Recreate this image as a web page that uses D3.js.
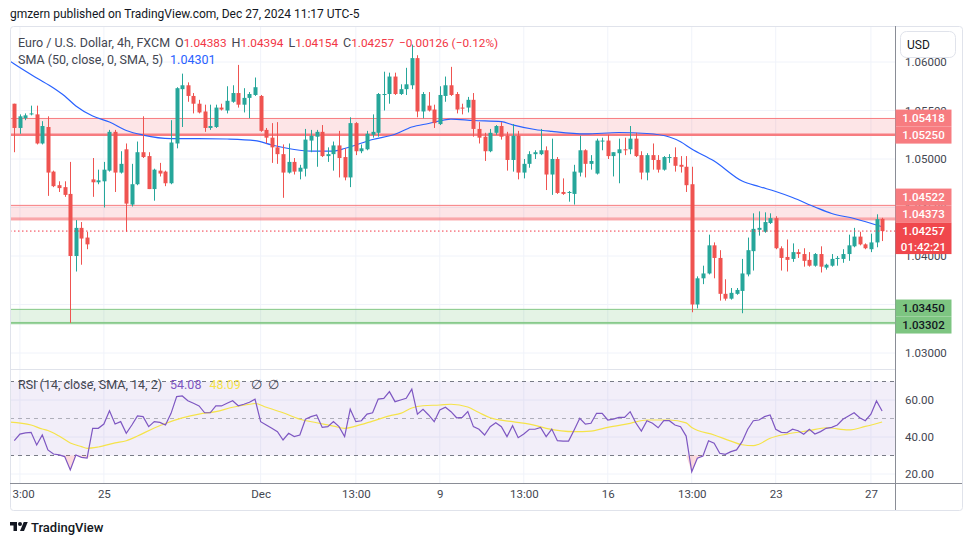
<!DOCTYPE html>
<html>
<head>
<meta charset="utf-8">
<script src="https://cdn.jsdelivr.net/npm/d3@7"></script>
<style>
  body { margin: 0; background: #fff; }
  text { font-family: Roboto, "Noto Sans", sans-serif; }
</style>
</head>
<body>
<svg id="chart" width="970" height="545"></svg>
<script>
// EURUSD 4h candles, [open, high, low, close]
const candles = [
  [1.0557,1.0557,1.0507,1.0532],[1.0532,1.0546,1.0526,1.0544],[1.0542,1.0547,1.0540,1.0545],[1.0546,1.0555,1.0545,1.0547],
  [1.0546,1.0555,1.0515,1.0516],[1.0516,1.0539,1.0515,1.0534],[1.0533,1.0544,1.0462,1.0486],[1.0487,1.0488,1.0471,1.0472],
  [1.0473,1.0477,1.0466,1.0470],[1.0471,1.0477,1.0461,1.0463],[1.0464,1.0497,1.0331,1.0400],[1.0400,1.0437,1.0384,1.0429],
  [1.0429,1.0435,1.0391,1.0418],[1.0419,1.0425,1.0407,1.0412],[1.0479,1.0501,1.0461,1.0476],[1.0476,1.0489,1.0474,1.0478],
  [1.0477,1.0497,1.0450,1.0489],[1.0488,1.0530,1.0487,1.0528],[1.0528,1.0530,1.0466,1.0486],[1.0486,1.0508,1.0485,1.0495],
  [1.0510,1.0516,1.0425,1.0454],[1.0453,1.0495,1.0451,1.0474],[1.0474,1.0518,1.0473,1.0507],[1.0507,1.0544,1.0501,1.0502],
  [1.0503,1.0507,1.0469,1.0469],[1.0469,1.0490,1.0457,1.0489],[1.0488,1.0496,1.0482,1.0485],[1.0487,1.0488,1.0472,1.0475],
  [1.0475,1.0540,1.0474,1.0517],[1.0516,1.0574,1.0511,1.0573],[1.0572,1.0588,1.0533,1.0576],[1.0576,1.0579,1.0559,1.0565],
  [1.0565,1.0568,1.0547,1.0557],[1.0557,1.0561,1.0547,1.0548],[1.0549,1.0556,1.0528,1.0532],[1.0532,1.0556,1.0530,1.0534],
  [1.0533,1.0556,1.0532,1.0553],[1.0553,1.0557,1.0550,1.0551],[1.0550,1.0575,1.0547,1.0560],[1.0559,1.0576,1.0558,1.0568],
  [1.0568,1.0597,1.0553,1.0556],[1.0556,1.0573,1.0548,1.0563],[1.0563,1.0569,1.0542,1.0567],[1.0566,1.0584,1.0565,1.0574],
  [1.0565,1.0566,1.0528,1.0529],[1.0530,1.0532,1.0516,1.0522],[1.0522,1.0537,1.0496,1.0512],[1.0512,1.0538,1.0495,1.0505],
  [1.0505,1.0515,1.0460,1.0486],[1.0486,1.0516,1.0485,1.0497],[1.0497,1.0501,1.0484,1.0487],[1.0487,1.0494,1.0479,1.0491],
  [1.0490,1.0531,1.0482,1.0520],[1.0519,1.0530,1.0507,1.0524],[1.0523,1.0530,1.0492,1.0528],[1.0528,1.0535,1.0502,1.0503],
  [1.0503,1.0512,1.0497,1.0505],[1.0505,1.0518,1.0488,1.0514],[1.0514,1.0529,1.0481,1.0501],[1.0502,1.0511,1.0478,1.0481],
  [1.0481,1.0543,1.0471,1.0537],[1.0537,1.0538,1.0504,1.0508],[1.0508,1.0515,1.0506,1.0511],[1.0510,1.0529,1.0509,1.0526],
  [1.0525,1.0546,1.0522,1.0528],[1.0527,1.0568,1.0523,1.0567],[1.0566,1.0590,1.0550,1.0567],[1.0567,1.0589,1.0557,1.0585],
  [1.0585,1.0589,1.0566,1.0567],[1.0567,1.0577,1.0566,1.0572],[1.0572,1.0594,1.0566,1.0577],[1.0576,1.0618,1.0572,1.0604],
  [1.0604,1.0607,1.0543,1.0549],[1.0549,1.0569,1.0542,1.0567],[1.0555,1.0569,1.0549,1.0550],[1.0551,1.0556,1.0532,1.0537],
  [1.0536,1.0575,1.0535,1.0566],[1.0565,1.0585,1.0559,1.0576],[1.0576,1.0595,1.0565,1.0566],[1.0567,1.0569,1.0547,1.0551],
  [1.0553,1.0557,1.0546,1.0552],[1.0553,1.0564,1.0548,1.0561],[1.0561,1.0568,1.0523,1.0531],[1.0531,1.0538,1.0516,1.0522],
  [1.0523,1.0527,1.0498,1.0508],[1.0508,1.0531,1.0507,1.0527],[1.0527,1.0535,1.0525,1.0534],[1.0534,1.0538,1.0520,1.0523],
  [1.0524,1.0528,1.0488,1.0499],[1.0499,1.0536,1.0487,1.0524],[1.0524,1.0529,1.0479,1.0486],[1.0486,1.0500,1.0480,1.0495],
  [1.0495,1.0508,1.0491,1.0505],[1.0505,1.0509,1.0500,1.0507],[1.0505,1.0531,1.0504,1.0509],[1.0509,1.0513,1.0468,1.0484],
  [1.0484,1.0521,1.0463,1.0500],[1.0500,1.0502,1.0464,1.0465],[1.0466,1.0480,1.0463,1.0464],[1.0465,1.0467,1.0456,1.0466],
  [1.0464,1.0494,1.0453,1.0487],[1.0486,1.0524,1.0482,1.0509],[1.0509,1.0510,1.0481,1.0495],[1.0495,1.0504,1.0489,1.0498],
  [1.0485,1.0521,1.0484,1.0519],[1.0518,1.0522,1.0509,1.0519],[1.0519,1.0525,1.0500,1.0503],[1.0503,1.0507,1.0482,1.0507],
  [1.0506,1.0521,1.0475,1.0510],[1.0510,1.0522,1.0504,1.0509],[1.0510,1.0534,1.0505,1.0521],[1.0521,1.0527,1.0502,1.0503],
  [1.0504,1.0508,1.0479,1.0486],[1.0486,1.0506,1.0478,1.0504],[1.0504,1.0516,1.0489,1.0499],[1.0499,1.0504,1.0486,1.0489],
  [1.0489,1.0503,1.0488,1.0502],[1.0501,1.0505,1.0496,1.0502],[1.0502,1.0512,1.0487,1.0493],[1.0494,1.0503,1.0486,1.0492],
  [1.0492,1.0503,1.0466,1.0473],[1.0474,1.0492,1.0342,1.0350],[1.0350,1.0379,1.0346,1.0377],[1.0377,1.0390,1.0371,1.0382],
  [1.0382,1.0422,1.0381,1.0411],[1.0411,1.0414,1.0377,1.0398],[1.0398,1.0406,1.0354,1.0361],[1.0361,1.0376,1.0354,1.0356],
  [1.0356,1.0367,1.0355,1.0362],[1.0361,1.0367,1.0360,1.0365],[1.0364,1.0397,1.0341,1.0382],[1.0381,1.0419,1.0379,1.0406],
  [1.0405,1.0444,1.0385,1.0428],[1.0427,1.0446,1.0421,1.0429],[1.0425,1.0445,1.0424,1.0435],[1.0434,1.0444,1.0433,1.0439],
  [1.0439,1.0441,1.0407,1.0408],[1.0408,1.0410,1.0385,1.0398],[1.0399,1.0417,1.0384,1.0396],[1.0397,1.0413,1.0394,1.0404],
  [1.0404,1.0407,1.0398,1.0402],[1.0402,1.0408,1.0389,1.0395],[1.0396,1.0404,1.0389,1.0390],[1.0390,1.0403,1.0389,1.0402],
  [1.0402,1.0410,1.0383,1.0389],[1.0388,1.0392,1.0386,1.0391],[1.0390,1.0402,1.0389,1.0397],[1.0397,1.0400,1.0390,1.0398],
  [1.0397,1.0407,1.0393,1.0402],[1.0402,1.0422,1.0395,1.0411],[1.0410,1.0429,1.0409,1.0420],[1.0420,1.0425,1.0411,1.0412],
  [1.0412,1.0413,1.0407,1.0408],[1.0407,1.0423,1.0404,1.0414],[1.0414,1.0443,1.0409,1.0438],[1.04383,1.04394,1.04154,1.04257]
];

// SMA(50) on price, read at these candle positions
const smaIdx = [-0.8,0,4,7,9,11,14,17,20,23,28,33,38,43,46,50,53,57,59,61,64,68,71,74,78,82,87,89,93,96,102,108,113,117,119,121,125,130,133,136,139,143,146,150,155];
const smaVal = [1.06010,1.05979,1.05835,1.05732,1.05649,1.05546,1.05443,1.05381,1.05294,1.05247,1.05211,1.05211,1.05206,1.05189,1.05144,1.05098,1.05082,1.05082,1.05108,1.05144,1.05201,1.05255,1.05330,1.05366,1.05412,1.05397,1.05385,1.05351,1.05304,1.05284,1.05258,1.05273,1.05263,1.05227,1.05178,1.05103,1.04979,1.04773,1.04716,1.04665,1.04603,1.04505,1.04438,1.04387,1.04301];

// RSI(14), one value per candle
const rsi = [
  38.0,41.6,42.2,42.5,35.7,41.1,33.0,30.8,30.3,29.4,
  22.2,30.3,29.0,28.6,44.7,44.7,47.0,54.2,47.0,48.3,
  42.0,46.5,51.4,51.0,45.6,48.3,47.9,46.5,52.8,61.8,
  62.2,59.6,58.2,56.8,53.1,53.1,56.8,56.8,58.2,59.6,
  56.9,57.7,58.8,60.4,48.3,46.5,44.7,42.9,38.4,42.0,
  40.2,41.1,49.6,51.0,51.9,45.2,45.6,48.3,45.6,40.2,
  55.0,48.3,48.8,52.4,53.1,60.5,60.9,64.5,59.1,60.0,
  60.9,65.9,52.3,55.0,51.9,48.3,54.6,56.1,53.7,50.4,
  50.6,53.7,45.6,44.2,41.1,45.6,47.7,45.6,40.2,46.1,
  39.6,41.6,44.2,44.2,45.2,40.2,44.3,38.0,37.8,37.8,
  43.8,50.1,47.0,47.4,52.8,52.8,49.2,49.7,50.6,50.6,
  53.7,47.7,43.2,48.8,47.4,45.0,48.8,48.8,46.5,45.6,
  40.5,21.2,28.5,29.7,38.0,36.6,31.2,30.6,32.1,33.0,
  37.5,44.2,48.8,49.2,51.0,51.9,44.2,42.5,42.3,44.2,
  43.4,41.5,44.2,41.6,42.9,44.7,45.2,46.5,49.6,51.4,
  53.1,50.4,48.8,52.3,59.5,54.08
];

// SMA(14) of RSI, read at these candle positions
const rsiSmaIdx = [-0.8,3,5,6,8,10,12,13,15,18,20,22,25,27,30,33,36,39,42,43,45,48,51,54,57,59,61,64,67,69,71,73,76,78,81,83,85,89,92,95,100,103,106,110,113,117,120,121,125,128,130,132,133,135,138,142,145,149,152,155];
const rsiSmaVal = [48.1,46.5,44.3,43.5,40.5,36.8,34.8,33.9,34.6,36.8,38.0,40.5,44.9,47.3,50.3,52.4,53.7,56.1,57.7,58.1,56.1,53.1,49.6,47.7,45.9,44.7,45.9,48.6,51.4,52.8,55.7,56.9,57.3,57.7,56.2,53.2,50.4,48.3,47.0,44.7,42.9,43.2,45.2,47.4,49.2,49.2,47.6,45.1,41.1,37.8,35.8,35.3,36.1,39.3,41.6,43.4,45.0,43.8,45.7,48.09];

// zones and levels
const redZones = [[1.05418, 1.05250], [1.04522, 1.04390]];
const greenZones = [[1.03450, 1.03315]];
const redLevels = [1.05418, 1.04522, 1.04390, 1.04373];
const redThickLevels = [1.05250];
const greenLevels = [1.03450, 1.03315, 1.03302];

const priceTicks = [1.030, 1.035, 1.040, 1.045, 1.050, 1.055, 1.060];
const rsiTicks = [20, 40, 60];
const timeTickIdx = [1, 16, 44, 61, 76, 91, 106, 121, 136, 153];
const timeTickLabels = ["13:00", "25", "Dec", "13:00", "9", "13:00", "16", "13:00", "23", "27"];

const lastClose = 1.04257;
const countdown = "01:42:21";

////////////////////////////////////////

const svg = d3.select("#chart");
const L = 10, R = 895, FR = 962;
const paneTop = 26, priceBottom = 369, rsiTop = 370, rsiBottom = 483, frameBottom = 510;

const x = d3.scaleLinear().domain([0, candles.length - 1]).range([14.3, 882.1]);
const y = d3.scaleLinear().domain([1.03, 1.06]).range([353, 62]);
const yr = d3.scaleLinear().domain([20, 60]).range([474, 400]);

const green = "#26A69A", red = "#EF5350";

const defs = svg.append("defs");
defs.append("clipPath").attr("id", "priceClip").append("rect")
  .attr("x", L).attr("y", paneTop).attr("width", R - L).attr("height", priceBottom - paneTop);
defs.append("clipPath").attr("id", "rsiClip").append("rect")
  .attr("x", L).attr("y", rsiTop).attr("width", R - L).attr("height", rsiBottom - rsiTop);
defs.append("clipPath").attr("id", "timeClip").append("rect")
  .attr("x", L + 1).attr("y", rsiBottom).attr("width", R - L - 1).attr("height", frameBottom - rsiBottom);

// header
svg.append("text").attr("x", 10).attr("y", 18)
  .attr("font-size", 12).attr("fill", "#131722")
  .text("gmzern published on TradingView.com, Dec 27, 2024 11:17 UTC-5");

// grid
const grid = svg.append("g");
grid.selectAll(".vg").data(timeTickIdx).join("line")
  .attr("x1", d => x(d)).attr("x2", d => x(d))
  .attr("y1", paneTop).attr("y2", rsiBottom)
  .attr("stroke", "#F0F3FA");
grid.selectAll(".hg").data(priceTicks).join("line")
  .attr("x1", L).attr("x2", R).attr("y1", d => y(d)).attr("y2", d => y(d))
  .attr("stroke", "#F0F3FA");
grid.selectAll(".rg").data(rsiTicks).join("line")
  .attr("x1", L).attr("x2", R).attr("y1", d => yr(d)).attr("y2", d => yr(d))
  .attr("stroke", "#F0F3FA");

// price pane
const price = svg.append("g").attr("clip-path", "url(#priceClip)");

price.selectAll(".rz").data(redZones).join("rect")
  .attr("x", L).attr("width", R - L)
  .attr("y", d => y(d[0])).attr("height", d => y(d[1]) - y(d[0]))
  .attr("fill", "rgba(242,54,69,0.13)");
price.selectAll(".gz").data(greenZones).join("rect")
  .attr("x", L).attr("width", R - L)
  .attr("y", d => y(d[0])).attr("height", d => y(d[1]) - y(d[0]))
  .attr("fill", "rgba(76,175,80,0.15)");
price.selectAll(".rl").data(redLevels).join("line")
  .attr("x1", L).attr("x2", R).attr("y1", d => y(d)).attr("y2", d => y(d))
  .attr("stroke", "#F77C80").attr("stroke-width", 1);
price.selectAll(".rtl").data(redThickLevels).join("line")
  .attr("x1", L).attr("x2", R).attr("y1", d => y(d)).attr("y2", d => y(d))
  .attr("stroke", "#F77C80").attr("stroke-width", 2.5);
price.selectAll(".gl").data(greenLevels).join("line")
  .attr("x1", L).attr("x2", R).attr("y1", d => y(d)).attr("y2", d => y(d))
  .attr("stroke", "#81C784").attr("stroke-width", 1);

// SMA 50
price.append("path")
  .datum(smaIdx.map((d, i) => [d, smaVal[i]]))
  .attr("fill", "none").attr("stroke", "#2962FF").attr("stroke-width", 1.2)
  .attr("d", d3.line().x(d => x(d[0])).y(d => y(d[1])).curve(d3.curveMonotoneX));

// candles
const cg = price.selectAll(".candle").data(candles).join("g");
cg.append("line")
  .attr("x1", (d, i) => Math.round(x(i)) + 0.5).attr("x2", (d, i) => Math.round(x(i)) + 0.5)
  .attr("y1", d => y(d[1])).attr("y2", d => y(d[2]))
  .attr("stroke", d => d[3] >= d[0] ? green : red);
cg.append("rect")
  .attr("x", (d, i) => Math.round(x(i)) - 1.5)
  .attr("width", 4)
  .attr("y", d => y(Math.max(d[0], d[3])))
  .attr("height", d => Math.max(1, Math.abs(y(d[0]) - y(d[3]))))
  .attr("fill", d => d[3] >= d[0] ? green : red);

// last price line
price.append("line")
  .attr("x1", L).attr("x2", R).attr("y1", y(lastClose)).attr("y2", y(lastClose))
  .attr("stroke", "#F23645").attr("stroke-width", 1).attr("stroke-dasharray", "1.5,2.5");

// legend
const lg = svg.append("text").attr("x", 18).attr("y", 46.5).attr("font-size", 12.5).attr("fill", "#434651");
lg.append("tspan").text("Euro / U.S. Dollar, 4h, FXCM");
[["O", "1.04383"], ["H", "1.04394"], ["L", "1.04154"], ["C", "1.04257"]].forEach(p => {
  lg.append("tspan").attr("dx", 5).text(p[0]);
  lg.append("tspan").attr("fill", "#F23645").attr("font-size", 11.8).text(p[1]);
});
lg.append("tspan").attr("dx", 5).attr("fill", "#F23645").attr("font-size", 11.8).text("\u22120.00126 (\u22120.12%)");

const lg2 = svg.append("text").attr("x", 18).attr("y", 63.5).attr("font-size", 12.5).attr("fill", "#434651");
lg2.append("tspan").text("SMA (50, close, 0, SMA, 5)");
lg2.append("tspan").attr("dx", 7).attr("fill", "#2962FF").text("1.04301");

// RSI pane
const rp = svg.append("g").attr("clip-path", "url(#rsiClip)");
rp.append("rect").attr("x", L).attr("width", R - L)
  .attr("y", yr(70)).attr("height", yr(30) - yr(70))
  .attr("fill", "rgba(126,87,194,0.1)");
rp.selectAll(".rb").data([70, 30]).join("line")
  .attr("x1", L).attr("x2", R).attr("y1", d => yr(d)).attr("y2", d => yr(d))
  .attr("stroke", "#787B86").attr("stroke-dasharray", "4,4");
rp.append("line")
  .attr("x1", L).attr("x2", R).attr("y1", yr(50)).attr("y2", yr(50))
  .attr("stroke", "rgba(120,123,134,0.55)").attr("stroke-dasharray", "4,4");

// oversold fill
rp.append("path").datum(rsi)
  .attr("fill", "rgba(242,54,69,0.18)")
  .attr("d", d3.area().x((d, i) => x(i)).y0(yr(30)).y1(d => yr(Math.min(d, 30))));

rp.append("path")
  .datum(rsiSmaIdx.map((d, i) => [d, rsiSmaVal[i]]))
  .attr("fill", "none").attr("stroke", "#F5E34A").attr("stroke-width", 1.2)
  .attr("d", d3.line().x(d => x(d[0])).y(d => yr(d[1])).curve(d3.curveMonotoneX));
rp.append("path").datum(rsi)
  .attr("fill", "none").attr("stroke", "#7E57C2").attr("stroke-width", 1.2)
  .attr("d", d3.line().x((d, i) => x(i)).y(d => yr(d)));

const rl = svg.append("text").attr("x", 18).attr("y", 388.5).attr("font-size", 12.5).attr("fill", "#434651");
rl.append("tspan").text("RSI (14, close, SMA, 14, 2)");
rl.append("tspan").attr("dx", 8).attr("fill", "#7E57C2").text("54.08");
rl.append("tspan").attr("dx", 8).attr("fill", "#F5E34A").text("48.09");
rl.append("tspan").attr("dx", 10).text("\u2205");
rl.append("tspan").attr("dx", 6).text("\u2205");

// frame and separators
const frame = svg.append("g").attr("fill", "none");
frame.append("rect").attr("x", L + 0.5).attr("y", paneTop + 0.5)
  .attr("width", FR - L).attr("height", frameBottom - paneTop)
  .attr("stroke", "#E0E3EB").attr("rx", 3);
frame.append("line").attr("x1", L).attr("x2", R).attr("y1", priceBottom + 0.5).attr("y2", priceBottom + 0.5)
  .attr("stroke", "#E0E3EB");
frame.append("line").attr("x1", L).attr("x2", FR).attr("y1", rsiBottom + 0.5).attr("y2", rsiBottom + 0.5)
  .attr("stroke", "#8A8D96");
frame.append("line").attr("x1", R + 0.5).attr("x2", R + 0.5).attr("y1", paneTop).attr("y2", frameBottom)
  .attr("stroke", "#8A8D96");

// price axis
const pa = svg.append("g").attr("transform", `translate(${R},0)`)
  .call(d3.axisRight(y).tickValues(priceTicks).tickFormat(d3.format(".5f")).tickSize(0).tickPadding(10));
pa.select(".domain").remove();
pa.attr("font-family", null);
pa.selectAll("text").attr("font-size", 11.5).attr("fill", "#434651");

const ra = svg.append("g").attr("transform", `translate(${R},0)`)
  .call(d3.axisRight(yr).tickValues(rsiTicks).tickFormat(d3.format(".2f")).tickSize(0).tickPadding(10));
ra.select(".domain").remove();
ra.attr("font-family", null);
ra.selectAll("text").attr("font-size", 11.5).attr("fill", "#434651");

// time axis (clip sits on an untransformed wrapper so the clip rect stays in page coordinates)
const taWrap = svg.append("g").attr("clip-path", "url(#timeClip)");
const ta = taWrap.append("g").attr("transform", `translate(0,${rsiBottom})`)
  .call(d3.axisBottom(x).tickValues(timeTickIdx).tickFormat((d, i) => timeTickLabels[i]).tickSize(0).tickPadding(7));
ta.select(".domain").remove();
ta.attr("font-family", null);
ta.selectAll("text").attr("font-size", 11.5).attr("fill", "#434651");

// price labels on the axis, pushed apart like the platform does
const labels = [
  { v: 1.05418, lines: ["1.05418"], fill: "#F77C80", color: "#fff" },
  { v: 1.05250, lines: ["1.05250"], fill: "#F77C80", color: "#fff" },
  { v: 1.04522, lines: ["1.04522"], fill: "#F77C80", color: "#fff" },
  { v: 1.04373, lines: ["1.04373"], fill: "#F77C80", color: "#fff" },
  { v: lastClose, lines: ["1.04257", countdown], fill: "#F0474C", color: "#fff", fixed: true },
  { v: 1.03450, lines: ["1.03450"], fill: "#7DC581", color: "#131722" },
  { v: 1.03302, lines: ["1.03302"], fill: "#7DC581", color: "#131722" }
];
labels.forEach(d => {
  d.pos = y(d.v);
  d.up = 8.5;
  d.down = d.lines.length > 1 ? 23 : 8.5;
});
for (let k = 0; k < 30; k++) {
  labels.sort((a, b) => a.pos - b.pos);
  for (let i = 0; i < labels.length - 1; i++) {
    const a = labels[i], b = labels[i + 1];
    const need = a.down + b.up;
    const gap = b.pos - a.pos;
    if (gap < need) {
      const o = need - gap;
      if (a.fixed) b.pos += o;
      else if (b.fixed) a.pos -= o;
      else { a.pos -= o / 2; b.pos += o / 2; }
    }
  }
}
const lb = svg.selectAll(".plabel").data(labels).join("g");
lb.append("rect")
  .attr("x", R + 0.5).attr("width", 56)
  .attr("y", d => d.pos - d.up).attr("height", d => d.up + d.down)
  .attr("fill", d => d.fill);
lb.each(function (d) {
  d3.select(this).selectAll("text").data(d.lines).join("text")
    .attr("x", R + 28.5).attr("y", (t, i) => d.pos + 4 + i * 15.5)
    .attr("text-anchor", "middle").attr("font-size", 11.5).attr("font-weight", 500)
    .attr("fill", d.color).text(t => t);
});

// currency button
svg.append("rect").attr("x", 900.5).attr("y", 31.5).attr("width", 55).attr("height", 26).attr("rx", 6)
  .attr("fill", "#fff").attr("stroke", "#E0E3EB");
svg.append("text").attr("x", 907).attr("y", 49).attr("font-size", 12).attr("fill", "#131722").text("USD");

// footer logo
const logo = svg.append("g").attr("transform", "translate(10,520) scale(0.5)").attr("fill", "#131722");
logo.append("path").attr("d", "M14 22H7V11H0V4h14v18zM28 22h-8l7.5-18h8L28 22z");
logo.append("circle").attr("cx", 20).attr("cy", 8).attr("r", 4);
svg.append("text").attr("x", 31).attr("y", 532).attr("font-size", 13).attr("font-weight", 500)
  .attr("fill", "#131722").text("TradingView");
</script>
</body>
</html>
